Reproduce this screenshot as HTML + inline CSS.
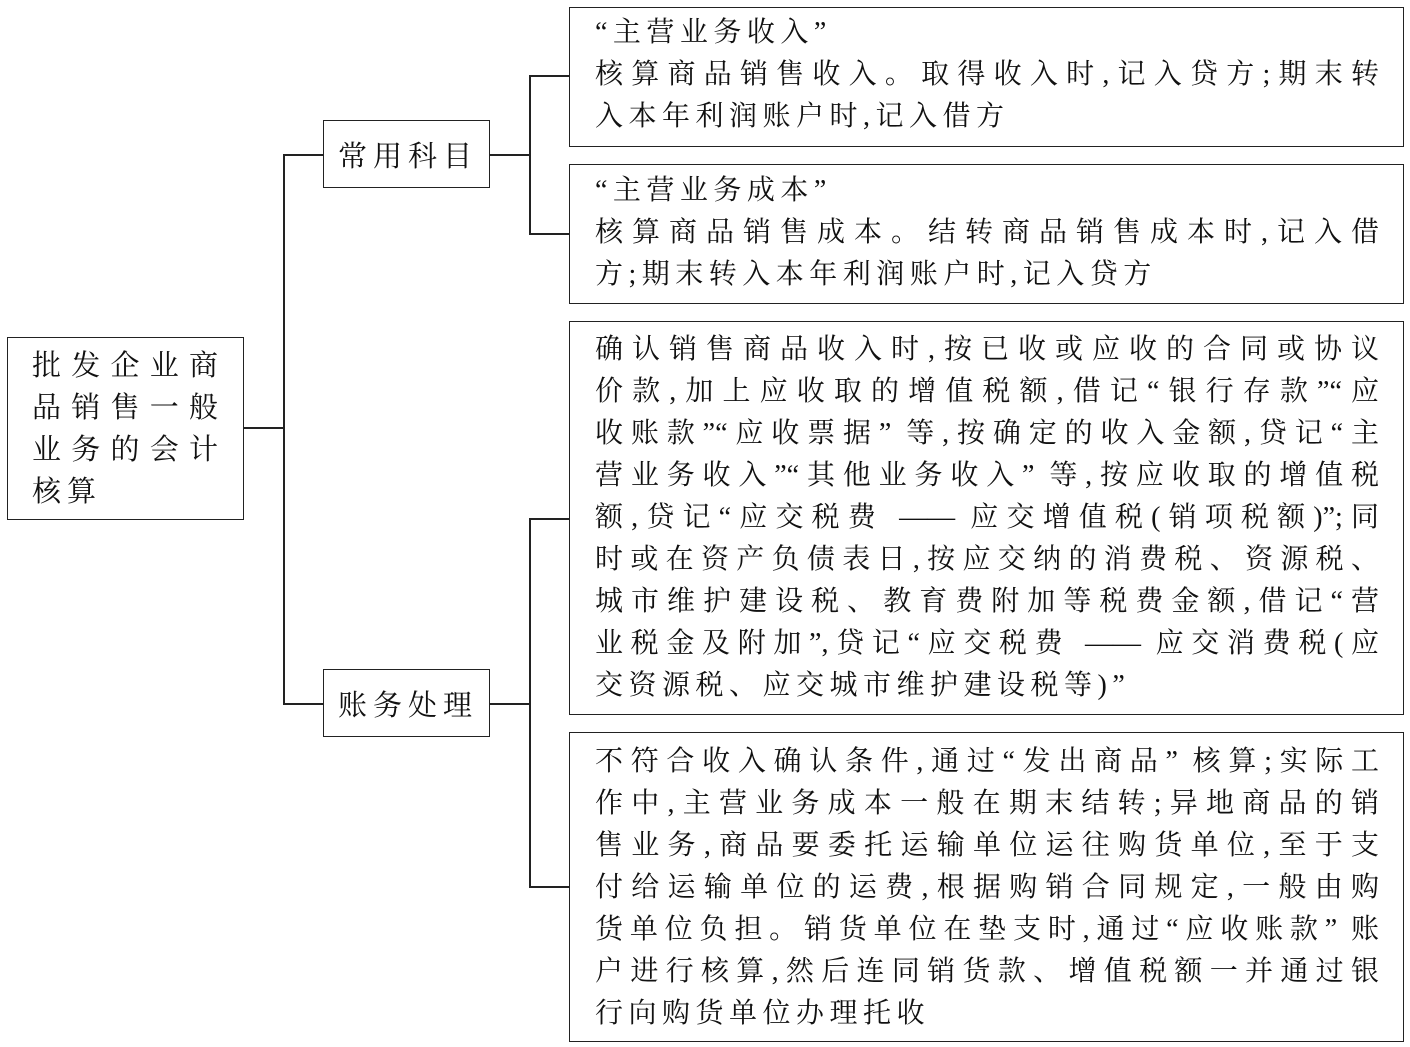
<!DOCTYPE html>
<html><head><meta charset="utf-8"><style>
body{margin:0;width:1410px;height:1047px;background:#fff;position:relative;overflow:hidden;font-family:"Liberation Serif","Noto Serif CJK SC",serif;color:#111}
.b{position:absolute;border:1.5px solid #222;box-sizing:border-box}
.l{position:absolute;background:#222}
.t{position:absolute;left:595px;width:784px;font-size:28px;line-height:42px}
.t div{height:42px;white-space:nowrap;letter-spacing:5.5px}
.t div.j{letter-spacing:0}
.j{text-align:justify;text-align-last:justify}
.n{position:absolute;font-size:29px;text-align:center;letter-spacing:6px}
</style></head><body lang="zh-CN">
<div class="b" style="left:7px;top:337px;width:237px;height:183px"></div>
<div style="position:absolute;left:32px;top:345px;width:186px;font-size:29px;line-height:42px">
<div class="j">批发企业商</div><div class="j">品销售一般</div><div class="j">业务的会计</div><div style="letter-spacing:6px">核算</div></div>
<div class="b" style="left:323px;top:120px;width:167px;height:68px"></div>
<div class="n" style="left:323px;top:134px;width:170px">常用科目</div>
<div class="b" style="left:323px;top:669px;width:167px;height:68px"></div>
<div class="n" style="left:323px;top:683px;width:170px">账务处理</div>
<div class="l" style="left:243px;top:427px;width:41px;height:1.5px"></div>
<div class="l" style="left:283px;top:154px;width:1.5px;height:550px"></div>
<div class="l" style="left:283px;top:154px;width:40px;height:1.5px"></div>
<div class="l" style="left:283px;top:703px;width:40px;height:1.5px"></div>
<div class="l" style="left:489px;top:154px;width:41px;height:1.5px"></div>
<div class="l" style="left:529px;top:75px;width:1.5px;height:159px"></div>
<div class="l" style="left:529px;top:75px;width:40px;height:1.5px"></div>
<div class="l" style="left:529px;top:233px;width:40px;height:1.5px"></div>
<div class="l" style="left:489px;top:703px;width:41px;height:1.5px"></div>
<div class="l" style="left:529px;top:518px;width:1.5px;height:369px"></div>
<div class="l" style="left:529px;top:518px;width:40px;height:1.5px"></div>
<div class="l" style="left:529px;top:886px;width:40px;height:1.5px"></div>
<div class="b" style="left:569px;top:7px;width:835px;height:140px"></div>
<div class="t" style="top:12px"><div>“主营业务收入”</div><div class="j">核算商品销售收入。取得收入时,记入贷方;期末转</div><div>入本年利润账户时,记入借方</div></div>
<div class="b" style="left:569px;top:164px;width:835px;height:140px"></div>
<div class="t" style="top:170px"><div>“主营业务成本”</div><div class="j">核算商品销售成本。结转商品销售成本时,记入借</div><div>方;期末转入本年利润账户时,记入贷方</div></div>
<div class="b" style="left:569px;top:321px;width:835px;height:394px"></div>
<div class="t" style="top:329px">
<div class="j">确认销售商品收入时,按已收或应收的合同或协议</div>
<div class="j">价款,加上应收取的增值税额,借记“银行存款”“应</div>
<div class="j">收账款”“应收票据” 等,按确定的收入金额,贷记“主</div>
<div class="j">营业务收入”“其他业务收入” 等,按应收取的增值税</div>
<div class="j">额,贷记“应交税费 —— 应交增值税(销项税额)”;同</div>
<div class="j">时或在资产负债表日,按应交纳的消费税、资源税、</div>
<div class="j">城市维护建设税、教育费附加等税费金额,借记“营</div>
<div class="j">业税金及附加”,贷记“应交税费 —— 应交消费税(应</div>
<div>交资源税、应交城市维护建设税等)”</div></div>
<div class="b" style="left:569px;top:732px;width:835px;height:310px"></div>
<div class="t" style="top:741px">
<div class="j">不符合收入确认条件,通过“发出商品” 核算;实际工</div>
<div class="j">作中,主营业务成本一般在期末结转;异地商品的销</div>
<div class="j">售业务,商品要委托运输单位运往购货单位,至于支</div>
<div class="j">付给运输单位的运费,根据购销合同规定,一般由购</div>
<div class="j">货单位负担。销货单位在垫支时,通过“应收账款” 账</div>
<div class="j">户进行核算,然后连同销货款、增值税额一并通过银</div>
<div>行向购货单位办理托收</div></div>
</body></html>
